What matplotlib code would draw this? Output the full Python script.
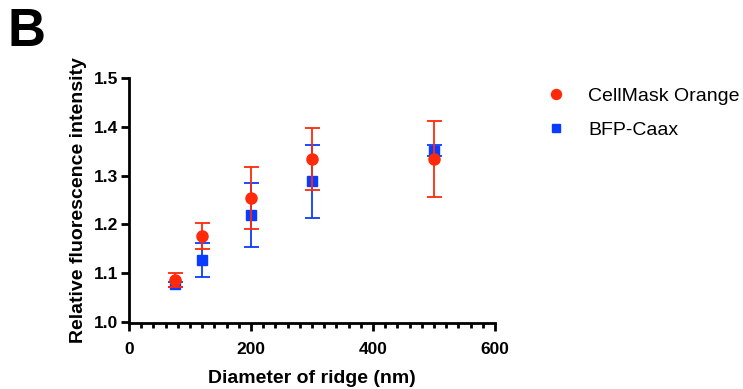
import matplotlib.pyplot as plt
from matplotlib.ticker import MultipleLocator

plt.rcParams["font.family"] = ["Liberation Sans", "DejaVu Sans"]

# data
diameter = [75, 120, 200, 300, 500]
cellmask_mean = [1.086, 1.176, 1.254, 1.334, 1.334]
cellmask_err = [0.014, 0.027, 0.064, 0.063, 0.077]
bfp_mean = [1.077, 1.127, 1.219, 1.288, 1.351]
bfp_err = [0.005, 0.034, 0.065, 0.075, 0.011]

red = "#ff2a0a"
blue = "#0a3cff"

fig = plt.figure(figsize=(7.43, 3.89), dpi=100)
ax = fig.add_axes([0.1736, 0.172, 0.4925, 0.628])

ax.errorbar(diameter, bfp_mean, yerr=bfp_err, fmt="s", color=blue, ms=6.8,
            capsize=5.4, elinewidth=1.3, capthick=1.3, label="BFP-Caax", zorder=2)
ax.errorbar(diameter, cellmask_mean, yerr=cellmask_err, fmt="o", color=red, ms=8,
            capsize=5.4, elinewidth=1.3, capthick=1.3, label="CellMask Orange", zorder=3)

ax.set_xlim(0, 600)
ax.set_ylim(1.0, 1.5)
ax.xaxis.set_major_locator(MultipleLocator(200))
ax.xaxis.set_minor_locator(MultipleLocator(20))
ax.yaxis.set_major_locator(MultipleLocator(0.1))
ax.yaxis.set_major_formatter(plt.FormatStrFormatter("%.1f"))

for s in ["top", "right"]:
    ax.spines[s].set_visible(False)
for s in ["left", "bottom"]:
    ax.spines[s].set_linewidth(2)
ax.spines["bottom"].set_position(("outward", 1))
ax.tick_params(which="major", width=2, length=6, labelsize=12.5)
ax.tick_params(which="minor", width=2, length=3.5)
ax.tick_params(axis="x", which="major", pad=7.5)
ax.tick_params(axis="y", which="major", pad=2)
for lbl in ax.get_xticklabels() + ax.get_yticklabels():
    lbl.set_fontweight("bold")

ax.set_xlabel("Diameter of ridge (nm)", fontsize=14, fontweight="bold", labelpad=9)
ax.set_ylabel("Relative fluorescence intensity", fontsize=14, fontweight="bold", labelpad=5)

handles, labels = ax.get_legend_handles_labels()
handles = [h[0] for h in handles][::-1]
labels = labels[::-1]
fig.legend(handles, labels, loc="upper left", bbox_to_anchor=(0.735, 0.775), frameon=False,
           fontsize=14, handlelength=1.0, handletextpad=1.15, labelspacing=0.85,
           markerscale=0.9, borderpad=0, borderaxespad=0)

fig.text(0.01, 0.982, "B", fontsize=38, fontweight="bold", va="top", ha="left")

fig.savefig("out.png", dpi=100)
